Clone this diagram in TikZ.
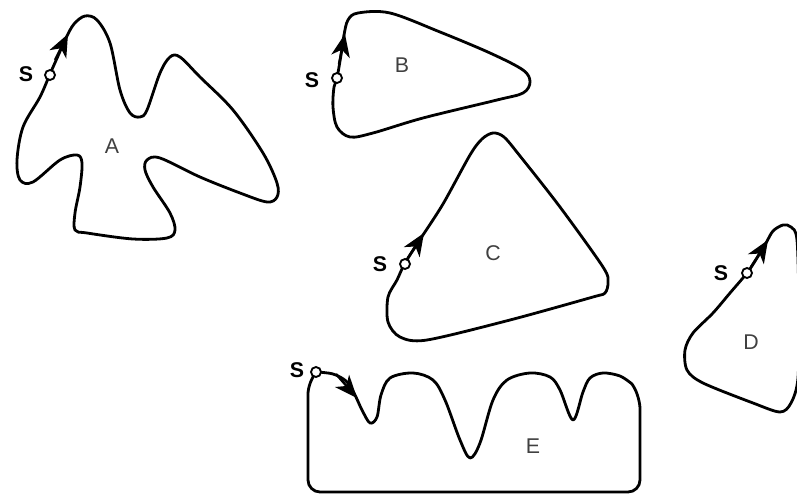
\documentclass[tikz,border=0pt]{standalone}
\usepackage{fontspec}
\setmainfont{Liberation Sans}
\usetikzlibrary{arrows.meta}
\tikzset{
  contour/.style={line width=2.1pt, line join=round, black},
  flowtip/.style={line width=1.8pt, -{Stealth[length=17pt,width=14pt,inset=5pt]}},
  scirc/.style={circle, draw=black, fill=white, line width=1.4pt, minimum size=7.5pt, inner sep=0pt},
  slabel/.style={font=\fontsize{16}{18}\selectfont\bfseries, text=black, inner sep=0pt},
  rlabel/.style={font=\fontsize{16}{18}\selectfont, text=black!75, inner sep=0pt}
}
\begin{document}
\begin{tikzpicture}[x=0.75pt,y=-0.75pt]
\useasboundingbox (0,0) rectangle (797,495);
\fill[white] (0,0) rectangle (797,495);
\clip (0,0) rectangle (797,495);

% ---------- A ----------
\draw[contour] plot[smooth cycle, tension=0.55] coordinates {
 (50,74) (58,56) (66,38) (74,24) (85,16) (97,20) (110,43) (120,90) (130,113)
 (140,117) (147,110) (160,73) (170,57) (180,57) (200,77) (233,110) (263,153)
 (277,183) (277,197) (267,202) (240,193) (200,177) (160,158) (147,160) (145,170)
 (153,187) (170,213) (175,230) (167,238) (133,239) (87,233) (75,230) (75,213)
 (80,187) (82,163) (77,155) (60,160) (33,182) (20,180) (17,160) (23,127) (40,97)};
\coordinate (aA1) at (55,60);
\coordinate (aA2) at (68,34);
\draw[flowtip] (aA1) -- (aA2);
\node[scirc] (sA) at (50,75) {};
\node[slabel] (tA) at (26,74) {S};
\node[rlabel] (lA) at (112,146) {A};

% ---------- B ----------
\draw[contour] plot[smooth cycle, tension=0.55] coordinates {
 (337,78) (341,55) (344,35) (348,20) (358,13) (390,13) (440,32) (490,53)
 (523,70) (530,82) (523,93) (497,100) (423,118) (373,133) (350,137)
 (337,127) (333,107) (334,87)};
\coordinate (aB1) at (339,64);
\coordinate (aB2) at (345,34);
\draw[flowtip] (aB1) -- (aB2);
\node[scirc] (sB) at (337,78) {};
\node[slabel] (tB) at (312,80) {S};
\node[rlabel] (lB) at (402,65) {B};

% ---------- C ----------
\draw[contour] plot[smooth cycle, tension=0.5] coordinates {
 (405,263) (421,238) (443,204) (470,155) (482,139) (493,133) (504,137)
 (520,156) (560,207) (603,267) (608,282) (605,293) (593,297) (510,320) (427,340)
 (400,337) (388,322) (388,297) (397,280)};
\coordinate (aC1) at (408,258);
\coordinate (aC2) at (424,233);
\draw[flowtip] (aC1) -- (aC2);
\node[scirc] (sC) at (405,264) {};
\node[slabel] (tC) at (380,264) {S};
\node[rlabel] (lC) at (493,253) {C};

% ---------- D ----------
\draw[contour] plot[smooth cycle, tension=0.5] coordinates {
 (747,273) (757,258) (766,243) (773,231) (783,225) (791,227) (797,240)
 (799,310) (798,378) (791,403) (780,412) (753,403) (703,383) (687,370)
 (685,350) (693,333) (713,313) (730,293)};
\coordinate (aD1) at (751,267);
\coordinate (aD2) at (768,240);
\draw[flowtip] (aD1) -- (aD2);
\node[scirc] (sD) at (747,273) {};
\node[slabel] (tD) at (721,273) {S};
\node[rlabel] (lD) at (751,342) {D};

% ---------- E ----------
\draw[contour] plot[smooth, tension=0.55] coordinates {
 (317,372) (333,374) (346,381) (354,393) (362,410) (370,423) (377,417) (381,395)
 (390,378) (413,373) (433,380) (445,400) (460,440) (470,458) (480,443)
 (493,400) (507,380) (530,373) (550,377) (560,390) (573,420) (583,392)
 (590,378) (603,373) (620,376) (632,384)}
 [rounded corners=9pt] -- (640,397) -- (640,492) -- (308,492) -- (308,382) -- (314,375);
\coordinate (aE1) at (336,374);
\coordinate (aE2) at (357,398);
\draw[flowtip] (aE1) -- (aE2);
\node[scirc] (sE) at (316,372) {};
\node[slabel] (tE) at (297,370) {S};
\node[rlabel] (lE) at (533,446) {E};
\end{tikzpicture}
\end{document}
